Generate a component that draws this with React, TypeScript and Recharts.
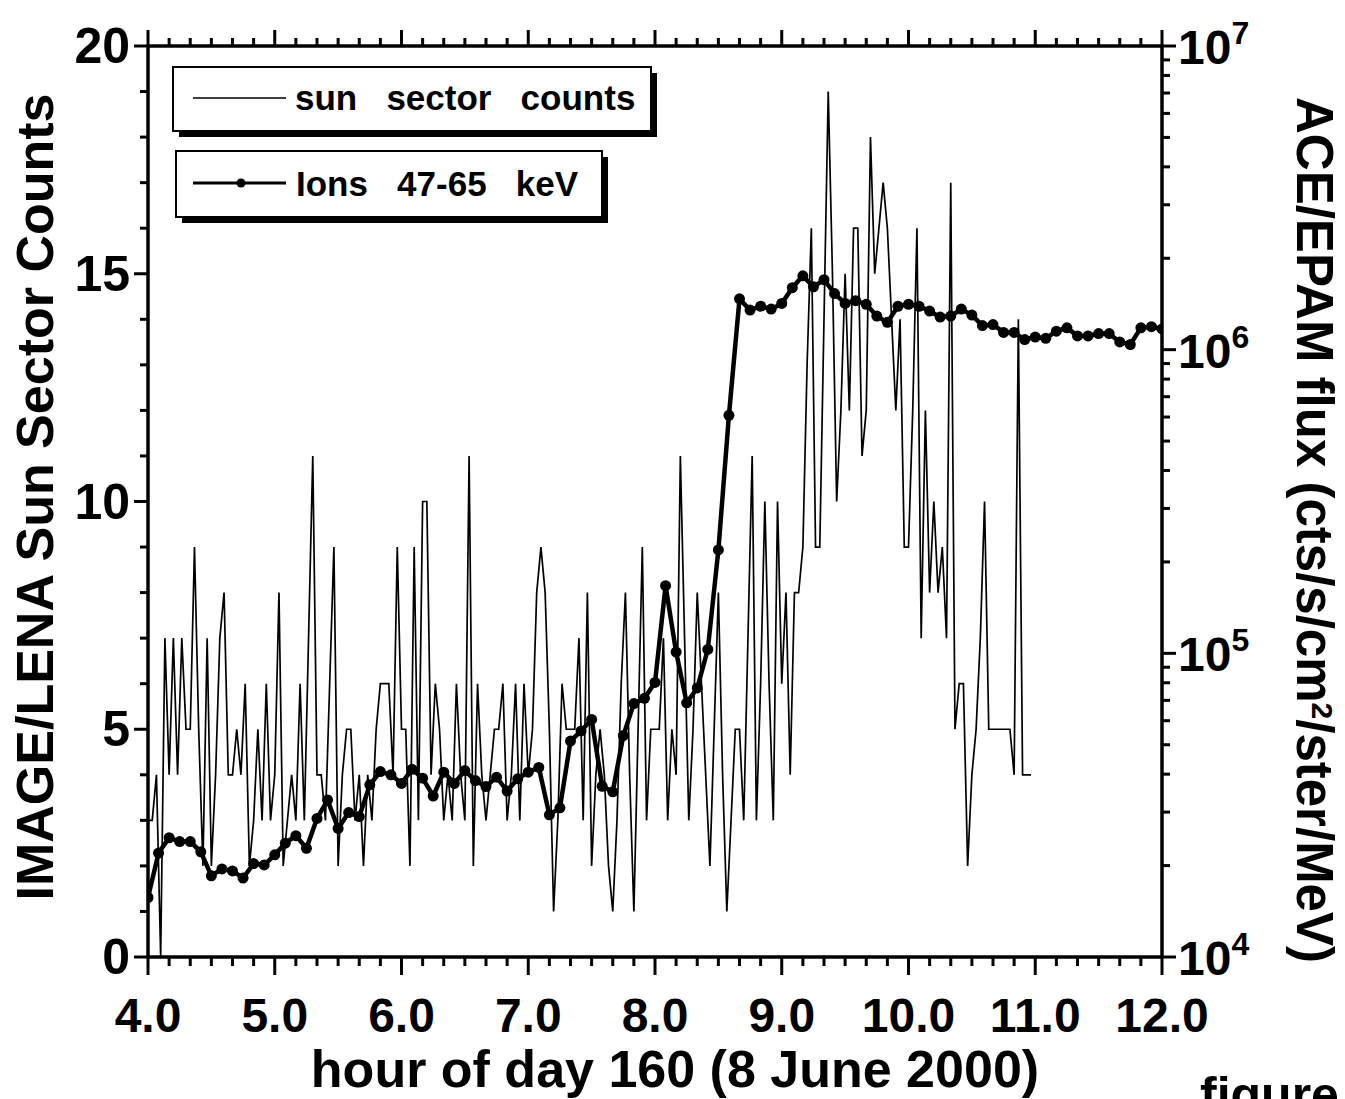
import React from 'react';
import { LineChart, Line, XAxis, YAxis } from 'recharts';

// IMAGE/LENA sun-sector counts, 2-minute spin cadence starting 04:00 UT
const SUN_START_HOUR = 4.0;
const SUN_CADENCE_MIN = 2;
const SUN_COUNTS = [
  3, 3, 4, 0, 7, 4, 7, 4, 7, 5, 5, 9, 5, 2, 7, 2, 4, 7, 8, 4,
  4, 5, 4, 6, 2, 3, 5, 3, 6, 3, 4, 8, 2, 3, 4, 3, 6, 3, 7, 11,
  4, 4, 3, 6, 9, 2, 4, 5, 5, 3, 4, 2, 4, 3, 5, 6, 6, 6, 4, 9,
  5, 5, 2, 9, 3, 10, 10, 4, 6, 5, 3, 4, 3, 6, 4, 3, 11, 2, 6, 4,
  3, 4, 5, 5, 6, 3, 4, 6, 3, 6, 4, 5, 8, 9, 8, 5, 1, 3, 6, 5,
  5, 5, 7, 3, 8, 2, 4, 5, 4, 2, 1, 3, 6, 8, 4, 1, 5, 9, 3, 5,
  5, 5, 7, 3, 5, 4, 11, 7, 3, 5, 8, 6, 4, 2, 5, 8, 4, 1, 3, 5,
  5, 3, 7, 11, 3, 6, 10, 6, 3, 10, 6, 8, 4, 8, 8, 9, 13, 16, 9, 9,
  14, 19, 15, 10, 12, 15, 12, 16, 16, 11, 12, 18, 15, 16, 17, 16, 14, 12, 14, 9,
  9, 12, 16, 7, 12, 8, 10, 8, 9, 7, 17, 5, 6, 6, 2, 4, 5, 7, 10, 5,
  5, 5, 5, 5, 5, 4, 14, 4, 4, 4,
];

// ACE/EPAM ions 47-65 keV, 5-minute cadence starting 04:00 UT
const ION_START_HOUR = 4.0;
const ION_CADENCE_MIN = 5;
const ION_FLUX = [
  1.57e4, 2.2e4, 2.47e4, 2.4e4, 2.4e4, 2.22e4, 1.85e4, 1.95e4, 1.92e4, 1.82e4,
  2.03e4, 2.01e4, 2.17e4, 2.37e4, 2.51e4, 2.28e4, 2.86e4, 3.29e4, 2.65e4, 2.99e4,
  2.9e4, 3.69e4, 4.08e4, 3.98e4, 3.73e4, 4.15e4, 3.88e4, 3.39e4, 4.06e4, 3.73e4,
  4.11e4, 3.81e4, 3.64e4, 3.91e4, 3.52e4, 3.86e4, 4.06e4, 4.21e4, 2.94e4, 3.1e4,
  5.14e4, 5.55e4, 6.06e4, 3.65e4, 3.5e4, 5.36e4, 6.83e4, 7.11e4, 8.02e4, 1.67e5,
  1.01e5, 6.87e4, 7.69e4, 1.03e5, 2.19e5, 6.08e5, 1.47e6, 1.35e6, 1.39e6, 1.36e6,
  1.42e6, 1.6e6, 1.75e6, 1.61e6, 1.7e6, 1.53e6, 1.42e6, 1.45e6, 1.41e6, 1.29e6,
  1.23e6, 1.39e6, 1.41e6, 1.39e6, 1.34e6, 1.28e6, 1.29e6, 1.36e6, 1.3e6, 1.2e6,
  1.21e6, 1.14e6, 1.14e6, 1.08e6, 1.1e6, 1.09e6, 1.15e6, 1.18e6, 1.11e6, 1.11e6,
  1.13e6, 1.13e6, 1.06e6, 1.04e6, 1.18e6, 1.19e6, 1.17e6,
];

const HOUR_LABELS = [4, 5, 6, 7, 8, 9, 10, 11, 12];
const MINOR_STEPS_PER_HOUR = 6; // 10-minute minor ticks
const COUNT_TICKS = [0, 1, 2, 3, 4, 5, 6, 7, 8, 9, 10, 11, 12, 13, 14, 15, 16, 17, 18, 19, 20];
const COUNT_LABELS = [0, 5, 10, 15, 20];
const FLUX_DECADES = [4, 5, 6, 7];
const FLUX_MANTISSAS = [1, 2, 3, 4, 5, 6, 7, 8, 9];

const LEGEND_SUN = 'sun   sector   counts';
const LEGEND_ION = 'Ions   47-65   keV';
const X_TITLE = 'hour of day 160 (8 June 2000)';
const Y_LEFT_TITLE = 'IMAGE/LENA Sun Sector Counts';

const sunData = SUN_COUNTS.map((c, i) => ({ t: SUN_START_HOUR + (i * SUN_CADENCE_MIN) / 60, c }));
const ionData = ION_FLUX.map((f, i) => ({ t: ION_START_HOUR + (i * ION_CADENCE_MIN) / 60, f }));

const xTicks: number[] = [];
for (let i = 0; i < HOUR_LABELS.length - 1; i++) {
  for (let m = 0; m < MINOR_STEPS_PER_HOUR; m++) xTicks.push(HOUR_LABELS[i] + m / MINOR_STEPS_PER_HOUR);
}
xTicks.push(HOUR_LABELS[HOUR_LABELS.length - 1]);

const fluxTicks: number[] = [];
FLUX_DECADES.forEach((d, i) => {
  if (i === FLUX_DECADES.length - 1) {
    fluxTicks.push(Math.pow(10, d));
  } else {
    FLUX_MANTISSAS.forEach((m) => fluxTicks.push(m * Math.pow(10, d)));
  }
});

const FONT = '"Liberation Sans", Arial, Helvetica, sans-serif';
const W = 1345;
const H = 1099;
const AXIS_W = 3.5;

const isMajorHour = (v: number) => Math.abs(v - Math.round(v)) < 1e-6;

const BottomTick = (props: any) => {
  const { x, y, payload } = props;
  const v = payload.value as number;
  const major = isMajorHour(v);
  return (
    <g>
      <line x1={x} x2={x} y1={y} y2={y + (major ? 18 : 9)} stroke="#000" strokeWidth={3} />
      {major && (
        <text x={x} y={y + 75} textAnchor="middle" fontFamily={FONT} fontWeight="bold" fontSize={48} fill="#000">
          {v.toFixed(1)}
        </text>
      )}
    </g>
  );
};

const TopTick = (props: any) => {
  const { x, y, payload } = props;
  const major = isMajorHour(payload.value);
  return <line x1={x} x2={x} y1={y} y2={y - (major ? 16 : 8)} stroke="#000" strokeWidth={3} />;
};

const LeftTick = (props: any) => {
  const { x, y, payload } = props;
  const v = payload.value as number;
  const major = COUNT_LABELS.includes(v);
  return (
    <g>
      <line x1={x} x2={x - (major ? 14 : 8)} y1={y} y2={y} stroke="#000" strokeWidth={3} />
      {major && (
        <text x={x - 18} y={y + 17} textAnchor="end" fontFamily={FONT} fontWeight="bold" fontSize={50} fill="#000">
          {v}
        </text>
      )}
    </g>
  );
};

const RightTick = (props: any) => {
  const { x, y, payload } = props;
  const v = payload.value as number;
  const exp = Math.round(Math.log10(v));
  const major = Math.abs(v - Math.pow(10, exp)) < 1e-6 * v;
  return (
    <g>
      <line x1={x} x2={x + (major ? 14 : 8)} y1={y} y2={y} stroke="#000" strokeWidth={3} />
      {major && (
        <text x={x + 16} y={y + 18} fontFamily={FONT} fontWeight="bold" fontSize={48} fill="#000">
          10
          <tspan fontSize={32} dy={-20}>
            {exp}
          </tspan>
        </text>
      )}
    </g>
  );
};

const Overlay = () => (
  <svg
    width={W}
    height={H}
    style={{ position: 'absolute', left: 0, top: 0, pointerEvents: 'none' }}
    fontFamily={FONT}
    fontWeight="bold"
  >
    {/* legend box 1 */}
    <rect x={179} y={73} width={478} height={64} fill="#000" />
    <rect x={173} y={67} width={478} height={64} fill="#fff" stroke="#000" strokeWidth={2} />
    <line x1={193} x2={286} y1={98} y2={98} stroke="#000" strokeWidth={1.6} />
    <text x={295} y={110} fontSize={35} fill="#000" style={{ whiteSpace: 'pre' }}>
      {LEGEND_SUN}
    </text>
    {/* legend box 2 */}
    <rect x={182} y={157} width={426} height={66} fill="#000" />
    <rect x={176} y={151} width={426} height={66} fill="#fff" stroke="#000" strokeWidth={2} />
    <line x1={193} x2={286} y1={183} y2={183} stroke="#000" strokeWidth={3} />
    <circle cx={241} cy={183} r={4.5} fill="#000" />
    <text x={296} y={196} fontSize={35} fill="#000" style={{ whiteSpace: 'pre' }}>
      {LEGEND_ION}
    </text>

    {/* axis titles */}
    <text x={675} y={1087} textAnchor="middle" fontSize={52} fill="#000">
      {X_TITLE}
    </text>
    <text x={53} y={497} textAnchor="middle" fontSize={52} fill="#000" transform="rotate(-90 53 497)">
      {Y_LEFT_TITLE}
    </text>
    <text x={1297} y={530} textAnchor="middle" fontSize={51} fill="#000" transform="rotate(90 1297 530)">
      ACE/EPAM flux (cts/s/cm
      <tspan fontSize={30} dy={-15}>
        2
      </tspan>
      <tspan dy={15}>/ster/MeV)</tspan>
    </text>
    <text x={1200} y={1112} fontSize={50} fill="#000">
      figure
    </text>
  </svg>
);

export default function App() {
  return (
    <div style={{ position: 'absolute', left: 0, top: 0, width: W, height: H, background: '#fff', fontFamily: FONT }}>
      <LineChart width={W} height={H} margin={{ top: 16, right: 0, bottom: 0, left: 0 }}>
        <XAxis
          xAxisId={0}
          dataKey="t"
          type="number"
          domain={[4, 12]}
          allowDataOverflow
          ticks={xTicks}
          interval={0}
          height={142}
          tickSize={0}
          tickMargin={0}
          tickLine={false}
          axisLine={{ stroke: '#000', strokeWidth: AXIS_W }}
          tick={(p: any) => <BottomTick {...p} />}
        />
        <XAxis
          xAxisId="top"
          orientation="top"
          dataKey="t"
          type="number"
          domain={[4, 12]}
          allowDataOverflow
          ticks={xTicks}
          interval={0}
          height={30}
          tickSize={0}
          tickMargin={0}
          tickLine={false}
          axisLine={{ stroke: '#000', strokeWidth: AXIS_W }}
          tick={(p: any) => <TopTick {...p} />}
        />
        <YAxis
          yAxisId="left"
          orientation="left"
          type="number"
          domain={[0, 20]}
          allowDataOverflow
          ticks={COUNT_TICKS}
          interval={0}
          width={148}
          tickSize={0}
          tickMargin={0}
          tickLine={false}
          axisLine={{ stroke: '#000', strokeWidth: AXIS_W }}
          tick={(p: any) => <LeftTick {...p} />}
        />
        <YAxis
          yAxisId="right"
          orientation="right"
          type="number"
          scale="log"
          domain={[1e4, 1e7]}
          allowDataOverflow
          ticks={fluxTicks}
          interval={0}
          width={183}
          tickSize={0}
          tickMargin={0}
          tickLine={false}
          axisLine={{ stroke: '#000', strokeWidth: AXIS_W }}
          tick={(p: any) => <RightTick {...p} />}
        />
        <Line
          yAxisId="left"
          data={sunData}
          dataKey="c"
          type="linear"
          stroke="#000"
          strokeWidth={1.7}
          dot={false}
          isAnimationActive={false}
        />
        <Line
          yAxisId="right"
          data={ionData}
          dataKey="f"
          type="linear"
          stroke="#000"
          strokeWidth={4.5}
          dot={{ r: 5.5, fill: '#000', stroke: '#000', strokeWidth: 0 }}
          isAnimationActive={false}
        />
      </LineChart>
      <Overlay />
    </div>
  );
}
